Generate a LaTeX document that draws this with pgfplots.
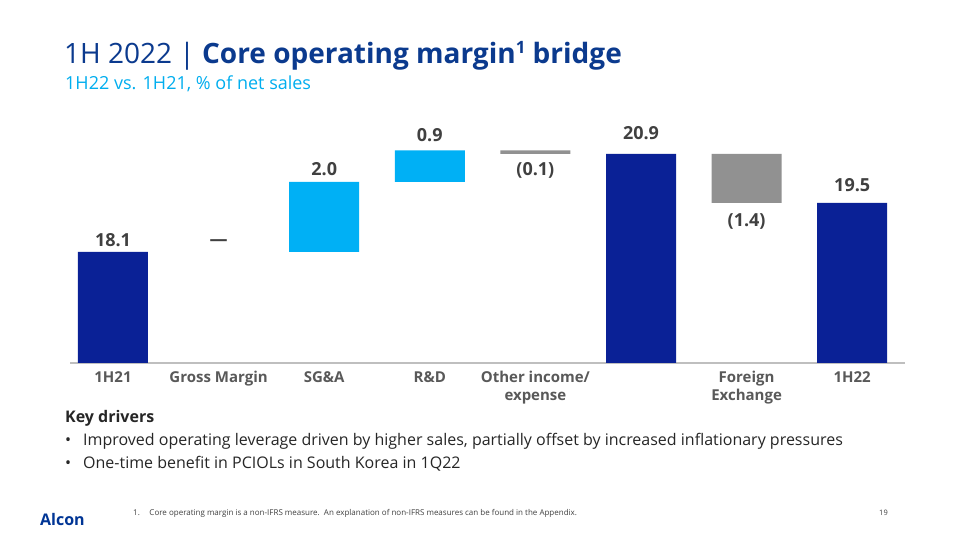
\documentclass[border=0pt]{standalone}
\usepackage{pgfplots}
\pgfplotsset{compat=1.18}
\usepackage{fontspec}
\setmainfont{Open Sans}
\definecolor{navy}{HTML}{0A2196}
\definecolor{sky}{HTML}{00B0F5}
\definecolor{midgray}{HTML}{919191}
\definecolor{titleblue}{HTML}{0B3A8E}
\definecolor{subblue}{HTML}{00AEEF}
\definecolor{valgray}{HTML}{404040}
\definecolor{labgray}{HTML}{595959}
\definecolor{axisgray}{HTML}{BFBFBF}
\definecolor{alconblue}{HTML}{003595}
\tikzset{val/.style={font=\bfseries\fontsize{18}{22}\selectfont, text=valgray, inner sep=0pt, anchor=base}}
\newcommand{\lh}{\rule{0pt}{12pt}}
\begin{document}
\begin{tikzpicture}[x=1pt,y=1pt]
\fill[white] (0,0) rectangle (960,540);
\useasboundingbox (0,0) rectangle (960,540);
\node[anchor=base west, inner sep=0, font=\fontsize{28}{32}\selectfont, text=titleblue] at (64,476)
  {1H 2022 | \textbf{Core operating margin\raisebox{0.36em}{\fontsize{17}{17}\selectfont 1} bridge}};
\node[anchor=base west, inner sep=0, font=\fontsize{18}{22}\selectfont, text=subblue] at (65,450)
  {1H22 vs. 1H21, \% of net sales};
\begin{axis}[
  at={(70pt,177pt)}, anchor=south west, scale only axis,
  width=835pt, height=243pt,
  xmin=-0.407, xmax=7.5, ymin=14.93, ymax=21.87,
  ybar stacked, bar width=70pt,
  hide y axis, axis x line*=bottom,
  x axis line style={-, draw=axisgray, line width=1.2pt},
  xtick={0,1,2,3,4,5,6,7},
  xticklabels={\lh 1H21,\lh Gross Margin,\lh SG\&A,\lh R\&D,{\lh Other income/\\expense},{},{\lh Foreign\\Exchange},\lh 1H22},
  major tick length=0pt,
  xticklabel style={align=center, yshift=-3.5pt, font=\bfseries\fontsize{15}{18}\selectfont, text=labgray},
]
\addplot[draw=none] coordinates {(0,0) (1,18.1) (2,18.1) (3,20.1) (4,20.9) (5,0) (6,19.5) (7,0)};
\addplot[draw=none, fill=navy] coordinates {(0,18.1) (1,0) (2,0) (3,0) (4,0) (5,20.9) (6,0) (7,19.5)};
\addplot[draw=none, fill=sky] coordinates {(0,0) (1,0) (2,2.0) (3,0.9) (4,0) (5,0) (6,0) (7,0)};
\addplot[draw=none, fill=midgray] coordinates {(0,0) (1,0) (2,0) (3,0) (4,0.1) (5,0) (6,1.4) (7,0)};
\node[val, yshift=5.5pt] at (axis cs:0,18.1) {18.1};
\node[val, yshift=6pt] at (axis cs:1,18.1) {\textemdash};
\node[val, yshift=6.5pt] at (axis cs:2,20.1) {2.0};
\node[val, yshift=9pt] at (axis cs:3,21.0) {0.9};
\node[val, yshift=-22pt] at (axis cs:4,20.9) {(0.1)};
\node[val, yshift=14.5pt] at (axis cs:5,20.9) {20.9};
\node[val, yshift=-23.5pt] at (axis cs:6,19.5) {(1.4)};
\node[val, yshift=11pt] at (axis cs:7,19.5) {19.5};
\end{axis}
\node[anchor=base west, inner sep=0, font=\bfseries\fontsize{16}{20}\selectfont, text=black!85] at (65,117) {Key drivers};
\node[anchor=base west, inner sep=0, font=\fontsize{16}{20}\selectfont, text=black!85] at (65,94) {•};
\node[anchor=base west, inner sep=0, font=\fontsize{16}{20}\selectfont, text=black!85] at (83,94) {Improved operating leverage driven by higher sales, partially offset by increased inflationary pressures};
\node[anchor=base west, inner sep=0, font=\fontsize{16}{20}\selectfont, text=black!85] at (65,71) {•};
\node[anchor=base west, inner sep=0, font=\fontsize{16}{20}\selectfont, text=black!85] at (83,71) {One-time benefit in PCIOLs in South Korea in 1Q22};
\node[anchor=base west, inner sep=0, font=\fontsize{8}{10}\selectfont, text=valgray] at (133,24.5) {1.\hspace{1.2em}Core operating margin is a non-IFRS measure.\ \ An explanation of non-IFRS measures can be found in the Appendix.};
\node[anchor=base west, inner sep=0, font=\fontsize{7.5}{9}\selectfont, text=valgray] at (879,24.5) {19};
\node[anchor=base west, inner sep=0, font=\bfseries\fontsize{16}{18}\selectfont, text=alconblue] at (40,14) {Alcon};
\end{tikzpicture}
\end{document}
